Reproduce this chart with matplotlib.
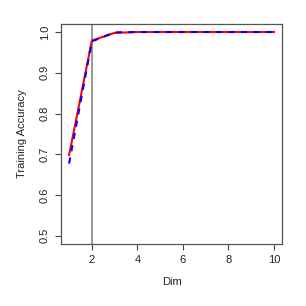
import matplotlib
matplotlib.use("Agg")
import matplotlib.pyplot as plt

plt.rcParams['font.family'] = ['Liberation Sans', 'DejaVu Sans']

dims = [1, 2, 3, 4, 5, 6, 7, 8, 9, 10]
acc_red = [0.698, 0.979, 0.998, 1.0, 1.0, 1.0, 1.0, 1.0, 1.0, 1.0]
acc_blue = [0.677, 0.977, 0.999, 1.0, 1.0, 1.0, 1.0, 1.0, 1.0, 1.0]
chosen_dim = 2

fig = plt.figure(figsize=(3.06, 3.06), dpi=100)
ax = fig.add_axes([0.199, 0.203, 0.723, 0.719])

ax.axvline(chosen_dim, color='#888888', lw=1.2)
ax.plot(dims, acc_red, color='red', lw=1.5)
ax.plot(dims, acc_blue, color='blue', lw=1.5, ls=(0, (3, 3)))

ax.set_xlim(0.64, 10.36)
ax.set_ylim(0.48, 1.02)
ax.set_xticks([2, 4, 6, 8, 10])
ax.set_yticks([0.5, 0.6, 0.7, 0.8, 0.9, 1.0])
ax.set_yticklabels(['0.5', '0.6', '0.7', '0.8', '0.9', '1.0'], rotation=90, va='center')
ax.tick_params(labelsize=8, length=4, width=0.8, color='#444444', labelcolor='#222222', pad=4)
for s in ax.spines.values():
    s.set_color('#555555')
    s.set_linewidth(0.9)

ax.set_xlabel('Dim', fontsize=8, labelpad=9, color='#222222')
ax.set_ylabel('Training Accuracy', fontsize=8, labelpad=9, color='#222222')

fig.savefig('out.png', dpi=100)
